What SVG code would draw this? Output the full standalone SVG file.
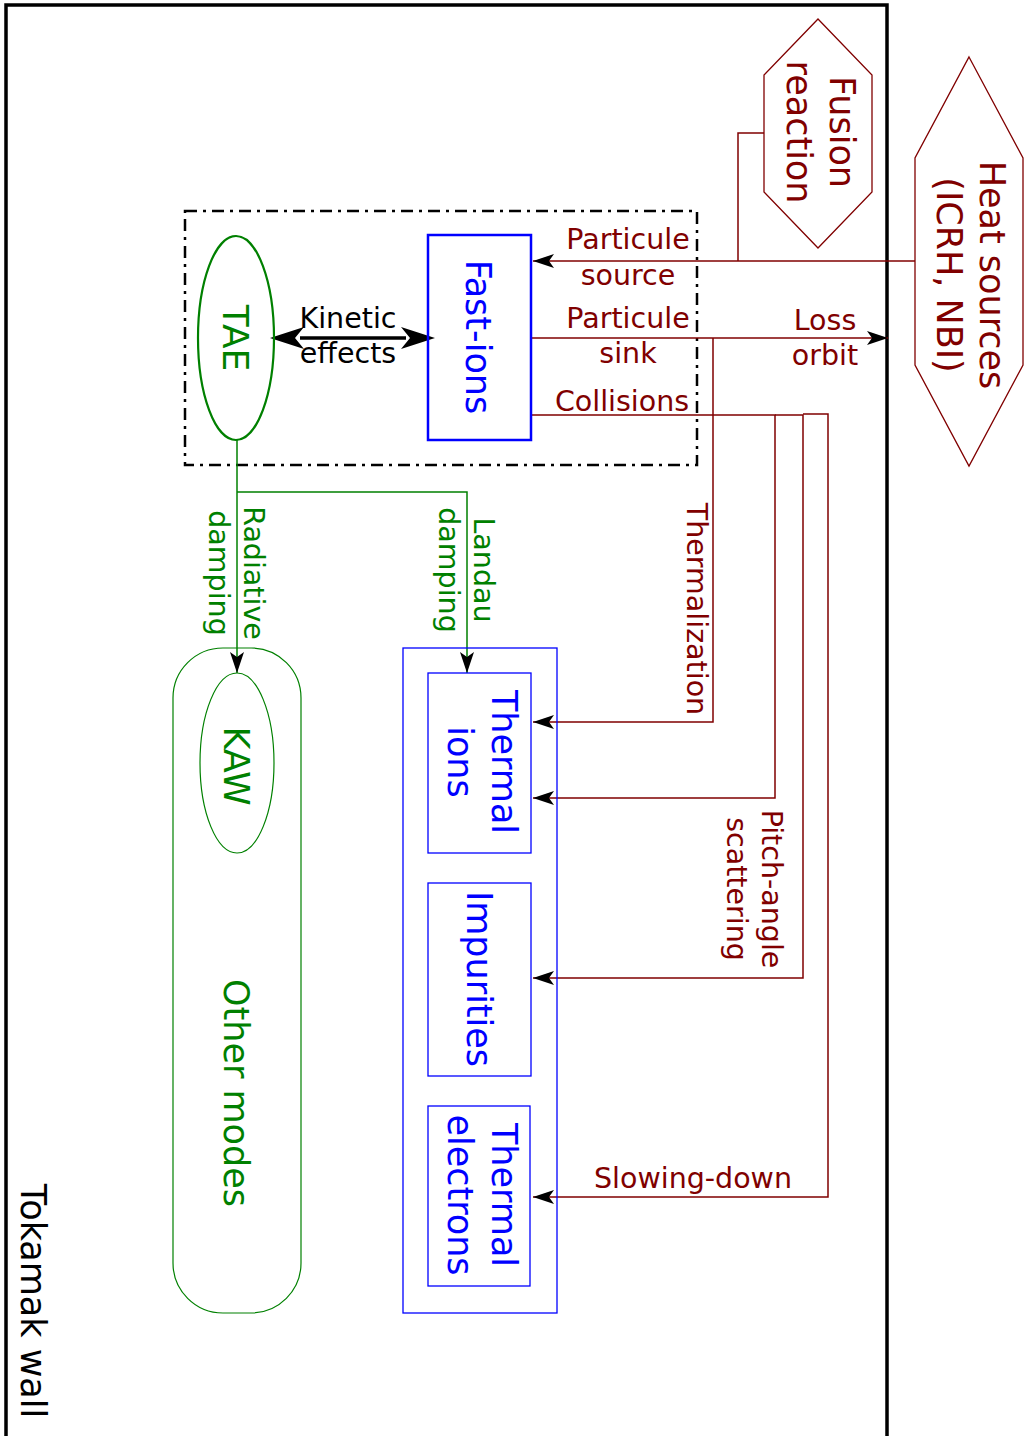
<svg xmlns="http://www.w3.org/2000/svg" width="1024" height="1436" viewBox="0 0 1024 1436">
<style>
text{font-family:"DejaVu Sans","Liberation Sans",sans-serif}
.n{font-size:35px}
.l{font-size:28.5px}
.red{fill:#800000}
.grn{fill:#008000}
.blu{fill:#0000ff}
.blk{fill:#000}
.rl{fill:none;stroke:#800000;stroke-width:1.5}
.gl{fill:none;stroke:#008000;stroke-width:1.5}
</style>
<defs>
<marker id="ah" viewBox="0 0 21 14" refX="21" refY="7" markerWidth="21" markerHeight="14" markerUnits="userSpaceOnUse" orient="auto">
<path d="M21,7 L0,0 L5,7 L0,14 z" fill="#000"/>
</marker>
<marker id="big" viewBox="0 0 34 22" refX="34" refY="11" markerWidth="34" markerHeight="22" markerUnits="userSpaceOnUse" orient="auto">
<path d="M34,11 L0,0 L9,11 L0,22 z" fill="#000"/>
</marker>
</defs>
<g id="wall">
<rect x="6" y="5" width="881" height="1500" fill="none" stroke="#000" stroke-width="3.5"/>
<text class="n blk" text-anchor="middle" transform="translate(21,1301) rotate(90)">Tokamak wall</text>
</g>
<g id="group-box">
<rect x="185" y="211" width="512" height="254" fill="none" stroke="#000" stroke-width="2.5" stroke-dasharray="12,6,3,6"/>
</g>
<g id="connectors">
<line x1="300" y1="338" x2="406" y2="338" stroke="#000" stroke-width="3.5"/>
<line x1="290" y1="338" x2="270" y2="338" stroke="none" marker-end="url(#big)"/>
<line x1="415" y1="338" x2="435" y2="338" stroke="none" marker-end="url(#big)"/>
<path class="rl" d="M915,261 H533" marker-end="url(#ah)"/>
<path class="rl" d="M764,133 H738 V261"/>
<path class="rl" d="M531,338 H888" marker-end="url(#ah)"/>
<path class="rl" d="M713,338 V722 H533" marker-end="url(#ah)"/>
<path class="rl" d="M531,415 H775 V798 H533" marker-end="url(#ah)"/>
<path class="rl" d="M775,415 H803 V978 H533" marker-end="url(#ah)"/>
<path class="rl" d="M803,414 H828 V1197 H533" marker-end="url(#ah)"/>
<path class="gl" d="M237,440 V673" marker-end="url(#ah)"/>
<path class="gl" d="M237,492 H467 V673" marker-end="url(#ah)"/>
</g>
<g id="labels">
<text class="l blk" text-anchor="middle"><tspan x="348" y="328">Kinetic</tspan><tspan x="348" y="363">effects</tspan></text>
<text class="l red" text-anchor="middle"><tspan x="628" y="249">Particule</tspan><tspan x="628" y="285">source</tspan></text>
<text class="l red" text-anchor="middle"><tspan x="628" y="328">Particule</tspan><tspan x="628" y="363">sink</tspan></text>
<text class="l red" text-anchor="middle" x="622" y="411">Collisions</text>
<text class="l red" text-anchor="middle"><tspan x="825" y="330">Loss</tspan><tspan x="825" y="365">orbit</tspan></text>
<text class="l red" text-anchor="middle" x="693" y="1188">Slowing-down</text>
<text class="l red" text-anchor="middle" transform="translate(687,609) rotate(90)">Thermalization</text>
<text class="l red" text-anchor="middle" transform="translate(762,889) rotate(90)"><tspan x="0" y="0">Pitch-angle</tspan><tspan x="0" y="35">scattering</tspan></text>
<text class="l grn" text-anchor="middle" transform="translate(244,573) rotate(90)"><tspan x="0" y="0">Radiative</tspan><tspan x="0" y="35">damping</tspan></text>
<text class="l grn" text-anchor="middle" transform="translate(474,570) rotate(90)"><tspan x="0" y="0">Landau</tspan><tspan x="0" y="35">damping</tspan></text>
</g>
<g id="fusion">
<polygon points="818,19 872,75 872,192 818,248 764,192 764,75" fill="none" stroke="#800000" stroke-width="1.3"/>
<text class="n red" text-anchor="middle" transform="translate(830,132) rotate(90)"><tspan x="0" y="0">Fusion</tspan><tspan x="0" y="43">reaction</tspan></text>
</g>
<g id="heat">
<polygon points="969,57 1023,158 1023,365 969,466 915,365 915,158" fill="none" stroke="#800000" stroke-width="1.3"/>
<text class="n red" text-anchor="middle" transform="translate(980,275) rotate(90)"><tspan x="0" y="0">Heat sources</tspan><tspan x="0" y="43">(ICRH, NBI)</tspan></text>
</g>
<g id="tae">
<ellipse cx="236" cy="338" rx="38" ry="102" fill="none" stroke="#008000" stroke-width="2.2"/>
<text class="grn" font-size="36" text-anchor="middle" transform="translate(223,338) rotate(90)">TAE</text>
</g>
<g id="fast-ions">
<rect x="428" y="235" width="103" height="205" fill="none" stroke="#0000ff" stroke-width="2.5"/>
<text class="n blu" text-anchor="middle" transform="translate(466,337) rotate(90)">Fast-ions</text>
</g>
<g id="other-modes">
<rect x="173" y="648" width="128" height="665" rx="50" ry="50" fill="none" stroke="#008000" stroke-width="1.2"/>
<text class="n grn" text-anchor="middle" transform="translate(224,1093) rotate(90)">Other modes</text>
</g>
<g id="kaw">
<ellipse cx="237" cy="763" rx="37" ry="90" fill="none" stroke="#008000" stroke-width="1.2"/>
<text class="n grn" text-anchor="middle" transform="translate(224,766) rotate(90)">KAW</text>
</g>
<g id="thermal-species">
<rect x="403" y="648" width="154" height="665" fill="none" stroke="#0000ff" stroke-width="1.3"/>
</g>
<g id="thermal-ions">
<rect x="428" y="673" width="103" height="180" fill="none" stroke="#0000ff" stroke-width="1.3"/>
<text class="n blu" text-anchor="middle" transform="translate(492,762) rotate(90)"><tspan x="0" y="0">Thermal</tspan><tspan x="0" y="44">ions</tspan></text>
</g>
<g id="impurities">
<rect x="428" y="883" width="103" height="193" fill="none" stroke="#0000ff" stroke-width="1.3"/>
<text class="n blu" text-anchor="middle" transform="translate(467,979) rotate(90)">Impurities</text>
</g>
<g id="thermal-electrons">
<rect x="428" y="1106" width="102" height="180" fill="none" stroke="#0000ff" stroke-width="1.3"/>
<text class="n blu" text-anchor="middle" transform="translate(492,1195) rotate(90)"><tspan x="0" y="0">Thermal</tspan><tspan x="0" y="44">electrons</tspan></text>
</g>
</svg>
